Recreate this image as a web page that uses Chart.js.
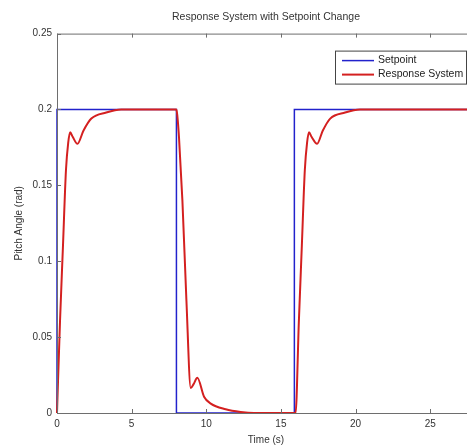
<!DOCTYPE html>
<html lang="en">
<head>
    <meta charset="UTF-8">
    <title>Response System with Setpoint Change</title>
    <style>
        body { margin: 0; background: #fff; overflow: hidden; }
        canvas { display: block; }
    </style>
</head>
<body>
    <canvas id="pitchChart" width="475" height="448"></canvas>
    <script src="https://cdn.jsdelivr.net/npm/chart.js"></script>
    <script>
        // values
        const xTicks = [0, 5, 10, 15, 20, 25];
        const yTicks = [0, 0.05, 0.1, 0.15, 0.2, 0.25];

        const setpointTime  = [0, 0,   8,   8, 15.9, 15.9, 28];
        const setpointValue = [0, 0.2, 0.2, 0, 0,    0.2,  0.2];

        const responseTime = [
            0, 0.2, 0.4, 0.6, 0.75, 0.88, 1.05, 1.37, 1.77, 2.3, 3.3, 4.3, 8.0,
            8.06, 8.17, 8.4, 8.67, 8.96, 9.15, 9.4, 9.85, 10.3, 11.3, 12.3, 13.2, 15.98,
            16.2, 16.4, 16.6, 16.75, 16.88, 17.05, 17.42, 17.8, 18.3, 19.3, 20.3, 28
        ];
        const responseValue = [
            0, 0.06, 0.11, 0.16, 0.178, 0.185, 0.182, 0.1774, 0.186, 0.194, 0.198, 0.2, 0.2,
            0.196, 0.182, 0.14, 0.074, 0.0165, 0.019, 0.0232, 0.0107, 0.0062, 0.0025, 0.0007, 0, 0,
            0.06, 0.11, 0.16, 0.178, 0.185, 0.182, 0.1774, 0.186, 0.194, 0.198, 0.2, 0.2
        ];

        const font = { family: '"Liberation Sans", Arial, sans-serif', size: 10 };
        const textColor = '#333';
        const axisColor = '#6e6e6e';

        // box round the axes with inward ticks, matlab style
        const matlabAxes = {
            id: 'matlabAxes',
            afterDraw(chart) {
                const { ctx, chartArea: a, scales } = chart;
                ctx.save();
                ctx.strokeStyle = axisColor;
                ctx.lineWidth = 1;
                ctx.strokeRect(a.left + 0.5, a.top + 0.5, a.right - a.left, a.bottom - a.top);
                ctx.beginPath();
                scales.x.ticks.forEach((t, i) => {
                    const px = Math.round(scales.x.getPixelForTick(i)) + 0.5;
                    ctx.moveTo(px, a.bottom); ctx.lineTo(px, a.bottom - 4);
                    ctx.moveTo(px, a.top); ctx.lineTo(px, a.top + 4);
                });
                scales.y.ticks.forEach((t, i) => {
                    const py = Math.round(scales.y.getPixelForTick(i)) + 0.5;
                    ctx.moveTo(a.left, py); ctx.lineTo(a.left + 4, py);
                    ctx.moveTo(a.right, py); ctx.lineTo(a.right - 4, py);
                });
                ctx.stroke();
                ctx.restore();
            }
        };

        // legend box in the upper right of the axes
        const boxLegend = {
            id: 'boxLegend',
            afterDraw(chart) {
                const { ctx, chartArea: a } = chart;
                const w = 131, h = 33;
                const x = a.right - 9 - w, y = a.top + 17;
                ctx.save();
                ctx.fillStyle = '#fff';
                ctx.fillRect(x, y, w, h);
                ctx.strokeStyle = '#444';
                ctx.lineWidth = 1;
                ctx.strokeRect(x + 0.5, y + 0.5, w, h);
                ctx.font = `10.5px ${font.family}`;
                ctx.textBaseline = 'middle';
                chart.data.datasets.forEach((ds, i) => {
                    const ly = y + 10 + i * 14;
                    ctx.strokeStyle = ds.borderColor;
                    ctx.lineWidth = ds.borderWidth;
                    ctx.beginPath();
                    ctx.moveTo(x + 7, ly); ctx.lineTo(x + 39, ly);
                    ctx.stroke();
                    ctx.fillStyle = '#222';
                    ctx.fillText(ds.label, x + 43, ly);
                });
                ctx.restore();
            }
        };

        const ctx = document.getElementById('pitchChart').getContext('2d');
        new Chart(ctx, {
            type: 'line',
            data: {
                datasets: [{
                    label: 'Setpoint',
                    data: setpointTime.map((t, i) => ({ x: t, y: setpointValue[i] })),
                    borderColor: '#2222cc',
                    borderWidth: 1.5,
                    tension: 0,
                    order: 2
                }, {
                    label: 'Response System',
                    data: responseTime.map((t, i) => ({ x: t, y: responseValue[i] })),
                    borderColor: '#d42020',
                    borderWidth: 2,
                    cubicInterpolationMode: 'monotone',
                    order: 1
                }]
            },
            options: {
                responsive: false,
                animation: false,
                clip: 4,
                elements: { point: { radius: 0 } },
                layout: { padding: 0 },
                plugins: {
                    legend: { display: false },
                    tooltip: { enabled: false },
                    title: {
                        display: true,
                        text: 'Response System with Setpoint Change',
                        fullSize: false,
                        color: textColor,
                        font: { ...font, size: 10.5, weight: 'normal' },
                        padding: { top: 11, bottom: 10 }
                    }
                },
                scales: {
                    x: {
                        type: 'linear',
                        min: 0,
                        max: 28,
                        afterBuildTicks: s => { s.ticks = xTicks.map(v => ({ value: v })); },
                        afterFit: s => { s.height = 35; },
                        grid: { display: false, drawTicks: false },
                        border: { display: false },
                        ticks: { padding: 5, color: textColor, font, maxRotation: 0, autoSkip: false },
                        title: { display: true, text: 'Time (s)', color: textColor, font, padding: { top: 0, bottom: 2 } }
                    },
                    y: {
                        min: 0,
                        max: 0.25,
                        afterBuildTicks: s => { s.ticks = yTicks.map(v => ({ value: v })); },
                        afterFit: s => { s.width = 57; },
                        grid: { display: false, drawTicks: false },
                        border: { display: false },
                        ticks: { padding: 5, color: textColor, font, callback: v => String(v) },
                        title: { display: true, text: 'Pitch Angle (rad)', color: textColor, font, padding: { top: 13, bottom: 0 } }
                    }
                }
            },
            plugins: [matlabAxes, boxLegend]
        });
    </script>
</body>
</html>
